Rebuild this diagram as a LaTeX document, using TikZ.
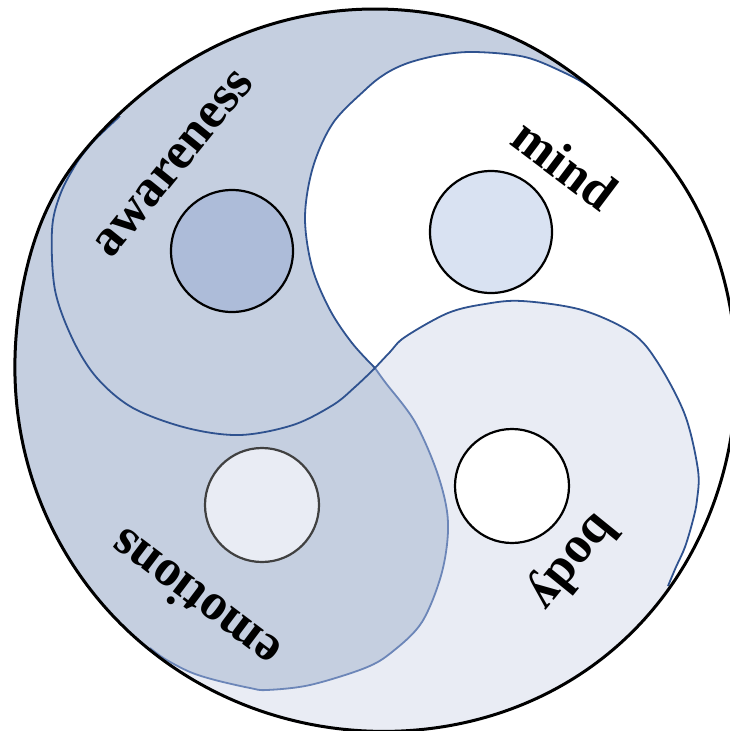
\documentclass[tikz,border=0pt]{standalone}
\usepackage{fontspec}
\setmainfont{Liberation Serif}
\definecolor{awfill}{HTML}{C5CFE0}
\definecolor{bodyfill}{HTML}{E9ECF4}
\definecolor{darkblue}{HTML}{2F528F}
\definecolor{emoline}{HTML}{6C86B8}
\definecolor{awcirc}{HTML}{ADBCD9}
\definecolor{mindcirc}{HTML}{D9E2F2}
\definecolor{emocircline}{HTML}{404040}
\tikzset{
  lbl/.style={font=\bfseries\fontsize{52}{52}\selectfont, inner sep=0pt},
  dot/.style={circle, draw=black, line width=2.2pt, inner sep=0pt},
  regline/.style={line width=1.8pt, line join=round},
  declare function={
    rr(\t)=360+8*((1.001+cos(\t-50))/2.001)^10-5*((1.001+cos(\t+50))/2.001)^63+5*((1.001+cos(\t-208))/2.001)^63;
  },
}
\begin{document}
\begin{tikzpicture}[x=1pt,y=-1pt]
\useasboundingbox (0,0) rectangle (730,731);
\begin{scope}
\clip plot[domain=0:360, samples=361] ({375+rr(\x)*cos(\x)}, {369+rr(\x)*sin(\x)}) -- cycle;
% body
\fill[bodyfill] (375,368) -- plot[smooth, tension=0.55] coordinates {(375,368) (390,352) (405,337) (448,313) (485,304) (522,301) (582,310) (632,333) (658,363) (685,415) (698,470) (697,500) (693,520) (685,547) (676,567) (668,586)} -- (760,640) -- (760,780) -- (-30,780) -- (-30,500) -- cycle;
\draw[darkblue, regline] plot[smooth, tension=0.55] coordinates {(375,368) (390,352) (405,337) (448,313) (485,304) (522,301) (582,310) (632,333) (658,363) (685,415) (698,470) (697,500) (693,520) (685,547) (676,567) (668,586)};
% emotions
\fill[awfill] (375,368) -- plot[smooth, tension=0.55] coordinates {(375,368) (385,382) (415,422) (438,475) (448,522) (442,572) (422,622) (392,652) (365,668) (310,685) (267,690) (250,688) (215,680) (190,672) (165,659) (150,648)} -- (120,700) -- (-30,760) -- (-30,-30) -- (200,60) -- (250,300) -- cycle;
\draw[emoline, regline] plot[smooth, tension=0.55] coordinates {(375,368) (385,382) (415,422) (438,475) (448,522) (442,572) (422,622) (392,652) (365,668) (310,685) (267,690) (250,688) (215,680) (190,672) (165,659) (150,648)};
% awareness
\fill[awfill] plot[smooth, tension=0.55] coordinates {(614,106) (590,87) (565,73) (525,57) (475,52) (440,55) (408,63) (385,74) (365,90) (333,123) (313,167) (305,217) (312,267) (330,310) (352,343) (375,368)} -- plot[smooth, tension=0.55] coordinates {(375,368) (355,387) (333,405) (293,425) (240,435) (187,428) (133,408) (97,378) (73,340) (55,290) (52,230) (60,195) (76,164) (92,143) (104,131) (120,116)} -- (60,90) -- (-30,-30) -- (700,-30) -- (700,60) -- cycle;
\draw[darkblue, regline] plot[smooth, tension=0.55] coordinates {(614,106) (590,87) (565,73) (525,57) (475,52) (440,55) (408,63) (385,74) (365,90) (333,123) (313,167) (305,217) (312,267) (330,310) (352,343) (375,368)} -- plot[smooth, tension=0.55] coordinates {(375,368) (355,387) (333,405) (293,425) (240,435) (187,428) (133,408) (97,378) (73,340) (55,290) (52,230) (60,195) (76,164) (92,143) (104,131) (120,116)};
\end{scope}
% outer boundary
\draw[black, line width=3pt, line join=round] plot[domain=0:360, samples=361] ({375+rr(\x)*cos(\x)}, {369+rr(\x)*sin(\x)}) -- cycle;
% small circles
\node[dot, fill=awcirc, minimum size=122pt] (awc) at (232,251) {};
\node[dot, fill=mindcirc, minimum size=122pt] (mic) at (491,232) {};
\node[dot, fill=bodyfill, draw=emocircline, minimum size=114pt] (emc) at (262,505) {};
\node[dot, fill=white, minimum size=114pt] (boc) at (512,486) {};
% labels
\node[lbl, rotate=51] (aw) at (174,164) {awareness};
\node[lbl, rotate=-37] (mi) at (565,164) {mind};
\node[lbl, rotate=143] (em) at (194,600) {emotions};
\node[lbl, rotate=-129] (bo) at (571,561) {body};
\end{tikzpicture}
\end{document}
